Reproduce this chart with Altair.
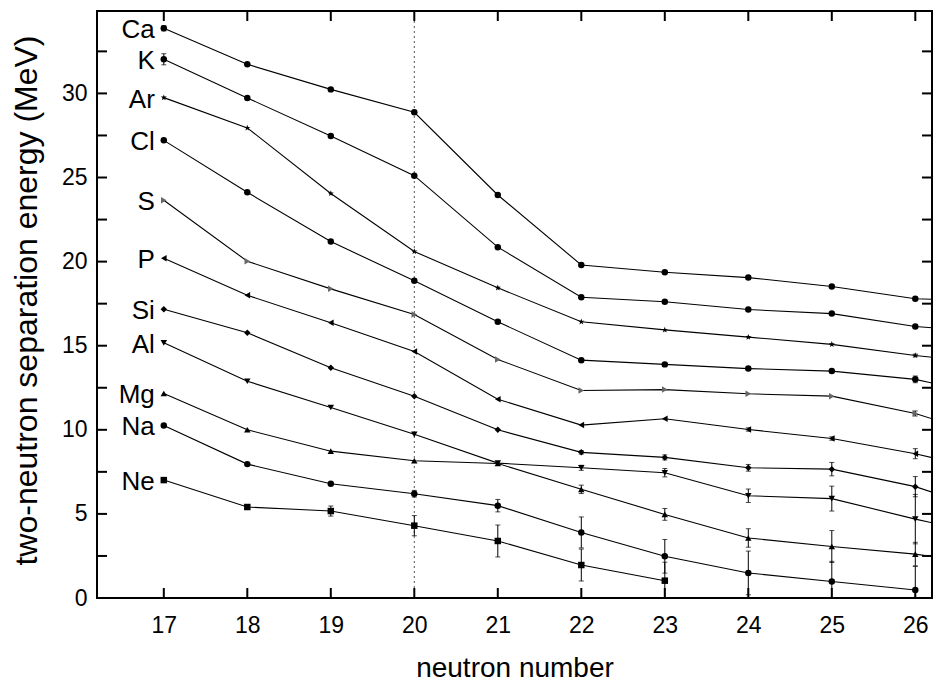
import altair as alt
import pandas as pd

# ---------------- data ----------------
neutrons = [17, 18, 19, 20, 21, 22, 23, 24, 25, 26, 27]
elements = ["Ne", "Na", "Mg", "Al", "Si", "P", "S", "Cl", "Ar", "K", "Ca"]

s2n_Ca = [33.87, 31.73, 30.24, 28.88, 23.96, 19.80, 19.37, 19.05, 18.52, 17.79, 17.65]
s2n_K  = [32.03, 29.73, 27.47, 25.11, 20.86, 17.88, 17.61, 17.15, 16.91, 16.14, 15.76]
s2n_Ar = [29.75, 27.95, 24.05, 20.60, 18.44, 16.42, 15.94, 15.51, 15.08, 14.42, 13.87]
s2n_Cl = [27.21, 24.12, 21.19, 18.86, 16.42, 14.14, 13.89, 13.64, 13.49, 13.00, 11.90]
s2n_S  = [23.65, 20.02, 18.38, 16.85, 14.18, 12.34, 12.39, 12.14, 12.00, 10.97, 9.40]
s2n_P  = [20.20, 18.00, 16.36, 14.66, 11.82, 10.28, 10.66, 10.02, 9.48, 8.58, 7.40]
s2n_Si = [17.17, 15.77, 13.69, 12.00, 10.00, 8.66, 8.36, 7.74, 7.66, 6.62, 5.00]
s2n_Al = [15.17, 12.89, 11.33, 9.73, 8.02, 7.74, 7.45, 6.08, 5.91, 4.69, 3.60]
s2n_Mg = [12.16, 10.00, 8.73, 8.16, 8.00, 6.46, 4.97, 3.57, 3.06, 2.61, 1.90]
s2n_Na = [10.26, 7.96, 6.79, 6.20, 5.49, 3.90, 2.48, 1.49, 0.98, 0.48]
s2n_Ne = [7.01, 5.41, 5.17, 4.30, 3.39, 1.96, 1.03]

err_Ca = [0.15, 0, 0, 0, 0, 0, 0, 0, 0, 0]
err_K  = [0.33, 0, 0, 0, 0, 0, 0, 0, 0, 0]
err_Ar = [0, 0, 0, 0, 0, 0, 0, 0, 0, 0.08]
err_Cl = [0, 0, 0, 0, 0, 0, 0.08, 0.08, 0.1, 0.2]
err_S  = [0, 0, 0, 0, 0, 0, 0, 0, 0, 0.15]
err_P  = [0, 0, 0, 0, 0, 0, 0, 0.1, 0.1, 0.3]
err_Si = [0, 0, 0, 0, 0, 0.1, 0.15, 0.2, 0.4, 0.6]
err_Al = [0, 0, 0, 0, 0, 0.15, 0.25, 0.4, 0.74, 1.47]
err_Mg = [0, 0, 0, 0, 0, 0.25, 0.35, 0.55, 0.95, 0.7]
err_Na = [0, 0, 0, 0.2, 0.37, 0.92, 1.0, 1.3, 1.2, 1.4]
err_Ne = [0, 0.15, 0.3, 0.6, 0.95, 0.95, 1.1]

magic_N = [20]
x_ticks = [17, 18, 19, 20, 21, 22, 23, 24, 25, 26]
y_labels = [0, 5, 10, 15, 20, 25, 30]
y_ticks = [0, 2.5, 5, 7.5, 10, 12.5, 15, 17.5, 20, 22.5, 25, 27.5, 30, 32.5]

series = {"Ca": (s2n_Ca, err_Ca), "K": (s2n_K, err_K), "Ar": (s2n_Ar, err_Ar),
          "Cl": (s2n_Cl, err_Cl), "S": (s2n_S, err_S), "P": (s2n_P, err_P),
          "Si": (s2n_Si, err_Si), "Al": (s2n_Al, err_Al), "Mg": (s2n_Mg, err_Mg),
          "Na": (s2n_Na, err_Na), "Ne": (s2n_Ne, err_Ne)}

rows = []
for el, (vals, errs) in series.items():
    for i, v in enumerate(vals):
        e = errs[i] if i < len(errs) else 0
        rows.append({"el": el, "N": neutrons[i], "E": v, "err": e,
                     "lo": v - e, "hi": v + e})
df = pd.DataFrame(rows)
lab_df = df[df["N"] == 17]

# ---------------- styling ----------------
W, H = 835, 587
star = "M0,-1L0.24,-0.31L0.95,-0.31L0.38,0.12L0.59,0.81L0,0.4L-0.59,0.81L-0.38,0.12L-0.95,-0.31L-0.24,-0.31Z"
shapes = ["square", "circle", "triangle-up", "triangle-down", "diamond",
          "triangle-left", "triangle-right", "circle", star, "circle", "circle"]
colors = ["#000", "#000", "#000", "#000", "#000", "#000", "#666", "#000", "#000", "#000", "#000"]

xs = alt.Scale(domain=[16.2, 26.2], nice=False, zero=False)
ys = alt.Scale(domain=[0, 34.9], nice=False, zero=False)

X = alt.X("N:Q", scale=xs,
          axis=alt.Axis(values=x_ticks, format="d", title="neutron number", grid=False, domain=False,
                        tickSize=0, labelPadding=16, labelFontSize=23, titleFontSize=28,
                        titleFontWeight="normal", titleY=78, titleBaseline="alphabetic",
                        labelColor="#000", titleColor="#000"))
Y = alt.Y("E:Q", scale=ys,
          axis=alt.Axis(values=y_labels, title="two-neutron separation energy (MeV)", grid=False,
                        domain=False, tickSize=0, labelPadding=10, labelFontSize=23,
                        titleFontSize=32, titleFontWeight="normal", titleX=-71, titleY=289,
                        titleAngle=270, titleBaseline="middle", titleAlign="center",
                        labelColor="#000", titleColor="#000"))

base = alt.Chart(df)

magic = alt.Chart(pd.DataFrame({"v": magic_N})).mark_rule(
    color="#555", strokeDash=[2, 3], strokeWidth=1).encode(
    x=alt.X("v:Q", scale=xs), y=alt.value(0), y2=alt.value(H))

lines = base.mark_line(color="#000", strokeWidth=1.1, clip=True).encode(
    x=X, y=Y, detail="el:N", order="N:Q")

ebase = base.transform_filter("datum.err > 0 && datum.N <= 26")
ebars = ebase.mark_rule(color="#000", strokeWidth=1, clip=True).encode(
    x=alt.X("N:Q", scale=xs), y=alt.Y("lo:Q", scale=ys), y2="hi:Q")
cap_lo = ebase.mark_tick(orient="horizontal", size=5, thickness=1, color="#000", clip=True).encode(
    x=alt.X("N:Q", scale=xs), y=alt.Y("lo:Q", scale=ys))
cap_hi = ebase.mark_tick(orient="horizontal", size=5, thickness=1, color="#000", clip=True).encode(
    x=alt.X("N:Q", scale=xs), y=alt.Y("hi:Q", scale=ys))

points = base.transform_filter("datum.N <= 26").mark_point(filled=True, size=42, opacity=1).encode(
    x=alt.X("N:Q", scale=xs), y=alt.Y("E:Q", scale=ys),
    shape=alt.Shape("el:N", scale=alt.Scale(domain=elements, range=shapes), legend=None),
    color=alt.Color("el:N", scale=alt.Scale(domain=elements, range=colors), legend=None))

labels = alt.Chart(lab_df).mark_text(align="right", baseline="middle", dx=-9, dy=2,
                                     fontSize=26, color="#000").encode(
    x=alt.X("N:Q", scale=xs), y=alt.Y("E:Q", scale=ys), text="el:N")

xt = alt.Chart(pd.DataFrame({"v": x_ticks}))
yt = alt.Chart(pd.DataFrame({"v": y_ticks}))
tick_b = xt.mark_rule(color="#000", strokeWidth=2).encode(
    x=alt.X("v:Q", scale=xs), y=alt.value(H), y2=alt.value(H - 10))
tick_t = xt.mark_rule(color="#000", strokeWidth=2).encode(
    x=alt.X("v:Q", scale=xs), y=alt.value(0), y2=alt.value(10))
tick_l = yt.mark_rule(color="#000", strokeWidth=2).encode(
    y=alt.Y("v:Q", scale=ys), x=alt.value(0), x2=alt.value(10))
tick_r = yt.mark_rule(color="#000", strokeWidth=2).encode(
    y=alt.Y("v:Q", scale=ys), x=alt.value(W), x2=alt.value(W - 10))

chart = alt.layer(magic, lines, ebars, cap_lo, cap_hi, points, labels,
                  tick_b, tick_t, tick_l, tick_r).properties(
    width=W, height=H,
    autosize=alt.AutoSizeParams(type="none"),
    padding={"left": 97, "top": 11, "right": 2, "bottom": 86},
).configure(font="Liberation Sans").configure_view(
    stroke="#000", strokeWidth=2
)

chart.save("out.html", embed_options={"renderer": "svg", "actions": False})
